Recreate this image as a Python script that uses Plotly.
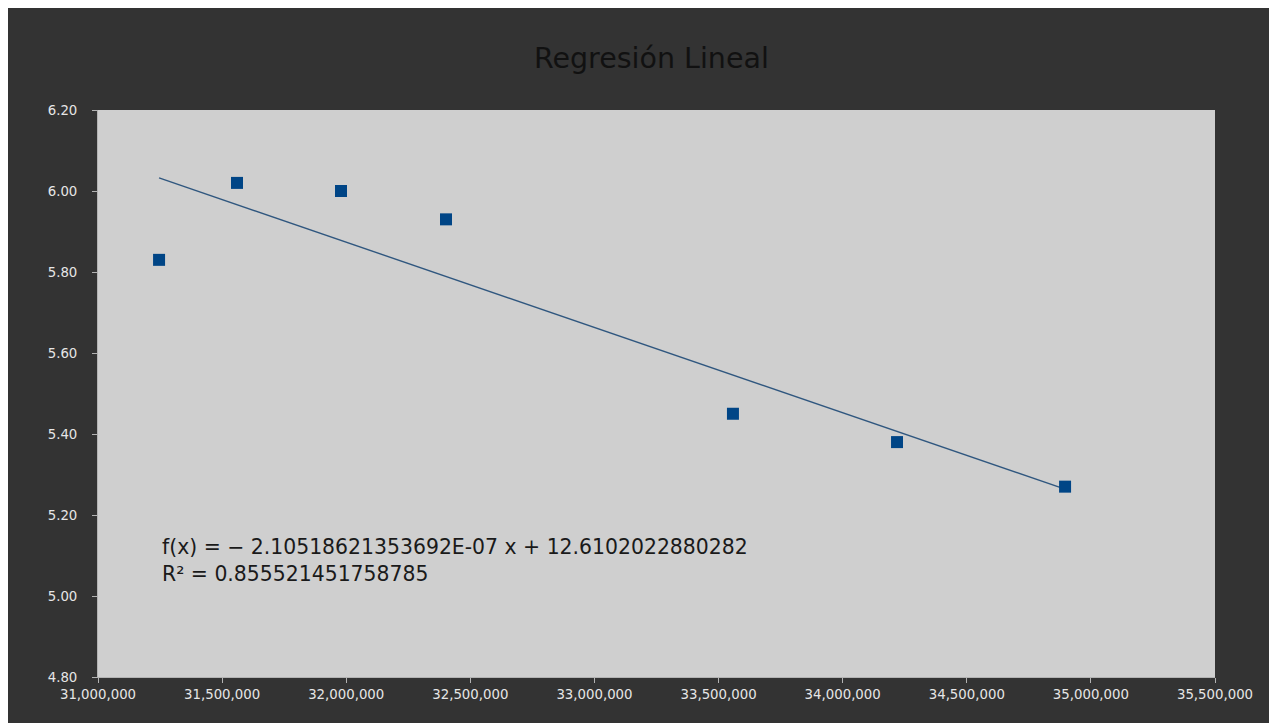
import plotly.graph_objects as go

# Data
x_values = [31246000, 31560000, 31979000, 32402000, 33558000, 34219000, 34896000]
y_values = [5.83, 6.02, 6.00, 5.93, 5.45, 5.38, 5.27]

# Trend line coefficients (as printed on the chart)
slope = -2.10518621353692E-07
intercept = 12.6102022880282
r_squared = 0.855521451758785

x_ticks = [31000000, 31500000, 32000000, 32500000, 33000000, 33500000,
           34000000, 34500000, 35000000, 35500000]
x_tick_labels = ["31,000,000", "31,500,000", "32,000,000", "32,500,000", "33,000,000",
                 "33,500,000", "34,000,000", "34,500,000", "35,000,000", "35,500,000"]
y_ticks = [4.8, 5.0, 5.2, 5.4, 5.6, 5.8, 6.0, 6.2]
y_tick_labels = ["4.80", "5.00", "5.20", "5.40", "5.60", "5.80", "6.00", "6.20"]

title_text = "Regresión Lineal"
equation_text = "f(x) = − 2.10518621353692E-07 x + 12.6102022880282<br>R² = 0.855521451758785"

FONT = "DejaVu Sans"

trend_x = [min(x_values), max(x_values)]
trend_y = [slope * v + intercept for v in trend_x]

fig = go.Figure()
fig.add_trace(go.Scatter(
    x=trend_x, y=trend_y, mode="lines",
    line=dict(color="#30577f", width=1.4),
    showlegend=False, hoverinfo="skip",
))
fig.add_trace(go.Scatter(
    x=x_values, y=y_values, mode="markers",
    marker=dict(symbol="square", size=12, color="#004586"),
    showlegend=False,
))

fig.update_layout(
    width=1269, height=715,
    margin=dict(l=90, r=62, t=102, b=46),
    paper_bgcolor="#333333",
    plot_bgcolor="#cfcfcf",
    font=dict(family=FONT, color="#e6e6e6", size=13),
    title=dict(
        text=title_text,
        font=dict(family=FONT, size=28.5, color="#111111"),
        x=0.507, xref="container", xanchor="center",
        y=1 - 50 / 715, yref="container", yanchor="middle",
    ),
    xaxis=dict(
        range=[31000000, 35500000],
        tickmode="array", tickvals=x_ticks, ticktext=x_tick_labels,
        showgrid=False, zeroline=False,
        showline=True, linecolor="#b3b3b3", linewidth=1,
        ticks="outside", ticklen=5, tickcolor="#b3b3b3",
        tickfont=dict(family=FONT, size=13.3, color="#e6e6e6"),
    ),
    yaxis=dict(
        range=[4.8, 6.2],
        tickmode="array", tickvals=y_ticks, ticktext=y_tick_labels,
        showgrid=False, zeroline=False,
        showline=True, linecolor="#b3b3b3", linewidth=1,
        ticks="outside", ticklen=5, tickcolor="#b3b3b3",
        tickfont=dict(family=FONT, size=13.3, color="#e6e6e6"),
        ticklabelstandoff=12,
    ),
    annotations=[dict(
        text=equation_text,
        xref="paper", yref="paper",
        x=(160 - 98) / 1117, y=(677 - 560) / 567,
        xanchor="left", yanchor="middle", align="left",
        showarrow=False,
        font=dict(family=FONT, size=20.4, color="#1a1a1a"),
    )],
)

fig.write_html("out.html")
